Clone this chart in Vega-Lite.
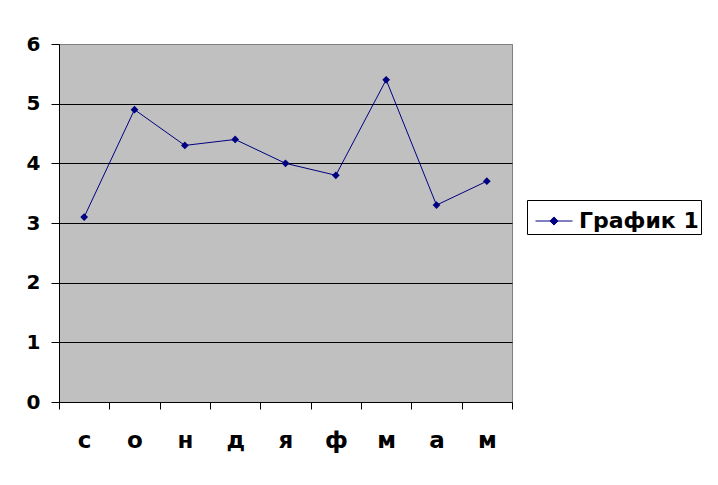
{
  "$schema": "https://vega.github.io/schema/vega-lite/v6.json",
  "autosize": {"type": "none"},
  "width": 453,
  "height": 358,
  "padding": {"left": 59, "top": 44, "right": 206, "bottom": 83},
  "background": "white",
  "config": {
    "font": "DejaVu Sans",
    "view": {"fill": "#C0C0C0", "stroke": "#808080", "strokeWidth": 1}
  },
  "data": {
    "values": [
      {"i": 0, "m": "с", "v": 3.1, "s": "График 1"},
      {"i": 1, "m": "о", "v": 4.9, "s": "График 1"},
      {"i": 2, "m": "н", "v": 4.3, "s": "График 1"},
      {"i": 3, "m": "д", "v": 4.4, "s": "График 1"},
      {"i": 4, "m": "я", "v": 4.0, "s": "График 1"},
      {"i": 5, "m": "ф", "v": 3.8, "s": "График 1"},
      {"i": 6, "m": "м", "v": 5.4, "s": "График 1"},
      {"i": 7, "m": "а", "v": 3.3, "s": "График 1"},
      {"i": 8, "m": "м", "v": 3.7, "s": "График 1"}
    ]
  },
  "mark": {"type": "line", "strokeWidth": 1, "point": {"shape": "diamond", "filled": true, "size": 60}},
  "encoding": {
    "x": {
      "field": "i", "type": "ordinal",
      "scale": {"type": "band", "paddingInner": 0, "paddingOuter": 0},
      "axis": {
        "title": null, "labelAngle": 0, "tickBand": "extent",
        "labelExpr": "['с','о','н','д','я','ф','м','а','м'][datum.value]",
        "labelFont": "DejaVu Sans", "labelFontSize": 23, "labelFontWeight": "bold", "labelColor": "black",
        "labelPadding": 20, "tickSize": 7, "tickColor": "black", "domainColor": "black", "grid": false
      }
    },
    "y": {
      "field": "v", "type": "quantitative",
      "scale": {"domain": [0, 6], "nice": false},
      "axis": {
        "title": null, "values": [0, 1, 2, 3, 4, 5, 6],
        "labelFont": "DejaVu Sans", "labelFontSize": 20, "labelFontWeight": "bold", "labelColor": "black",
        "labelPadding": 11, "tickSize": 8, "tickColor": "black", "domainColor": "black",
        "grid": true,
        "gridColor": {"condition": {"test": "datum.value == 6", "value": "#808080"}, "value": "black"},
        "gridOpacity": 1
      }
    },
    "color": {
      "field": "s", "type": "nominal",
      "scale": {"range": ["#000080"]},
      "legend": {
        "title": null, "orient": "none", "legendX": 468, "legendY": 156,
        "strokeColor": "black", "fillColor": "white", "padding": 2,
        "symbolType": "M-1,0L1,0M0,-0.22L0.22,0L0,0.22L-0.22,0Z",
        "symbolSize": 1369, "symbolStrokeWidth": 1, "symbolOffset": 6,
        "labelFont": "DejaVu Sans", "labelFontSize": 22, "labelFontWeight": "bold", "labelColor": "black",
        "labelOffset": 6,
        "encode": {"symbols": {"update": {"fill": {"value": "#000080"}, "stroke": {"value": "#000080"}, "opacity": {"value": 1}}}}
      }
    }
  }
}
